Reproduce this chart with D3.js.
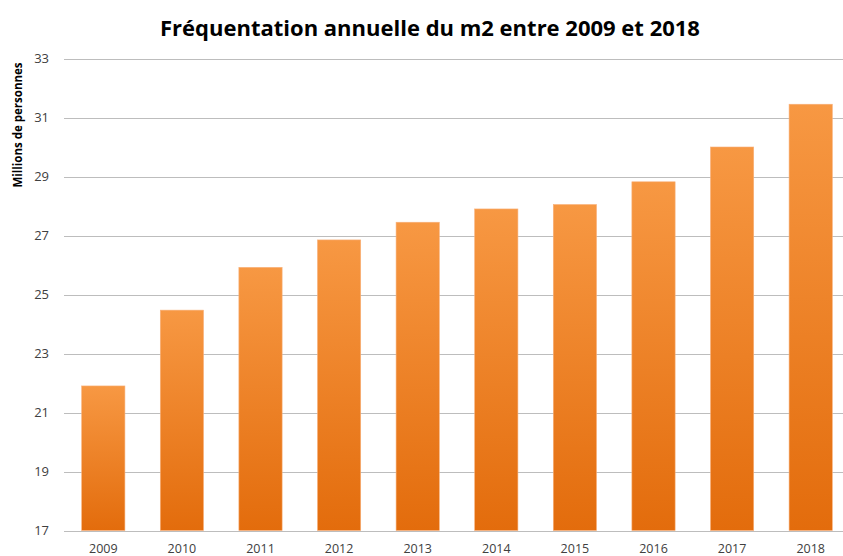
<!DOCTYPE html>
<html>
<head>
<meta charset="utf-8">
<script src="https://cdn.jsdelivr.net/npm/d3@7"></script>
<style>
  body { margin: 0; background: #fff; overflow: hidden; }
  text { font-family: "Open Sans", "Noto Sans", sans-serif; }
</style>
</head>
<body>
<svg id="chart" width="843" height="556"></svg>
<script>
'use strict';

// data
var years = ['2009', '2010', '2011', '2012', '2013', '2014', '2015', '2016', '2017', '2018'];
var visitors = [21.9, 24.47, 25.92, 26.85, 27.45, 27.9, 28.05, 28.82, 30.0, 31.45];
var yTicks = [17, 19, 21, 23, 25, 27, 29, 31, 33];

var svg = d3.select('#chart');

var x = d3.scaleBand()
	.domain(years)
	.range([64, 850])
	.paddingInner(0.45)
	.paddingOuter(0.225);

var y = d3.scaleLinear()
	.domain([17, 33])
	.range([530.5, 58.5]);

// - gradient of the bars (lighter on top)
var grad = svg.append('defs').append('linearGradient')
	.attr('id', 'barGrad')
	.attr('x1', 0).attr('y1', 0).attr('x2', 0).attr('y2', 1);
grad.append('stop').attr('offset', '0%').attr('stop-color', '#f79843');
grad.append('stop').attr('offset', '100%').attr('stop-color', '#e36c0c');

// - grid lines
svg.append('g')
	.selectAll('line')
	.data(yTicks)
	.join('line')
		.attr('x1', 64).attr('x2', 843)
		.attr('y1', d => Math.round(y(d)) + 0.5)
		.attr('y2', d => Math.round(y(d)) + 0.5)
		.attr('stroke', '#bdbdbd')
		.attr('stroke-width', 1);

// - y axis labels
svg.append('g')
	.selectAll('text')
	.data(yTicks)
	.join('text')
		.attr('x', 49)
		.attr('y', d => y(d))
		.attr('dy', '0.35em')
		.attr('text-anchor', 'end')
		.attr('font-size', 13)
		.attr('fill', '#404040')
		.text(d => d);

// - bars
svg.append('g')
	.selectAll('rect')
	.data(visitors)
	.join('rect')
		.attr('x', (d, i) => x(years[i]))
		.attr('y', d => y(d))
		.attr('width', x.bandwidth())
		.attr('height', d => y(17) - y(d))
		.attr('fill', 'url(#barGrad)')
		.attr('stroke', '#f8b07a')
		.attr('stroke-width', 0.6);

// - x axis labels
svg.append('g')
	.selectAll('text')
	.data(years)
	.join('text')
		.attr('x', d => x(d) + x.bandwidth() / 2)
		.attr('y', 549)
		.attr('dy', '0.35em')
		.attr('text-anchor', 'middle')
		.attr('font-size', 12.5)
		.attr('fill', '#404040')
		.text(d => d);

// - title
svg.append('text')
	.attr('x', 430)
	.attr('y', 28)
	.attr('dy', '0.35em')
	.attr('text-anchor', 'middle')
	.attr('font-size', 22)
	.attr('font-weight', 'bold')
	.attr('fill', '#000')
	.text('Fréquentation annuelle du m2 entre 2009 et 2018');

// - y axis title
svg.append('text')
	.attr('transform', 'translate(18,' + 125 + ') rotate(-90)')
	.attr('dy', '0.35em')
	.attr('text-anchor', 'middle')
	.attr('font-size', 11.5)
	.attr('font-weight', 'bold')
	.attr('fill', '#000')
	.text('Millions de personnes');
</script>
</body>
</html>
